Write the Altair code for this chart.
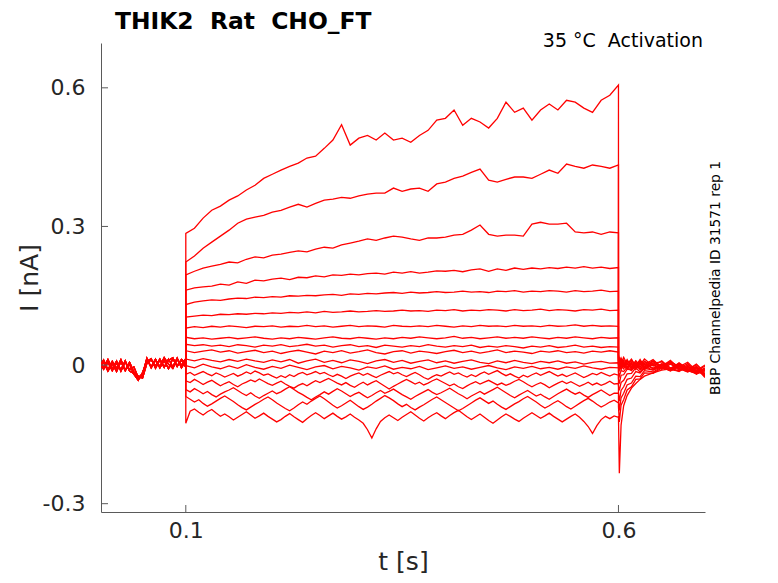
import altair as alt
import pandas as pd

RED = "#ff0000"
AXIS_GREY = "#5a5a5a"
TEXT_DARK = "#262626"
FONT = "DejaVu Sans"

PLOT_W = 604
PLOT_H = 469

TITLE = "THIK2\u00a0\u00a0Rat\u00a0\u00a0CHO_FT"
ACTIVATION_LABEL = "35 °C\u00a0\u00a0Activation"
SOURCE_LABEL = "BBP Channelpedia ID 31571 rep 1"

X_TICKS = [0.1, 0.6]
Y_TICKS = [-0.3, 0.0, 0.3, 0.6]

# sample times (s): holding before the step, the step itself, the tail after it
T_PRE = [0.000, 0.005, 0.010, 0.015, 0.020, 0.025, 0.030, 0.035, 0.040, 0.045,
         0.050, 0.055, 0.060, 0.065, 0.070, 0.075, 0.080, 0.085, 0.090, 0.095, 0.100]
T_STEP = [0.10, 0.11, 0.12, 0.13, 0.14, 0.15, 0.16, 0.17, 0.18, 0.19,
          0.20, 0.21, 0.22, 0.23, 0.24, 0.25, 0.26, 0.27, 0.28, 0.29,
          0.30, 0.31, 0.32, 0.33, 0.34, 0.35, 0.36, 0.37, 0.38, 0.39,
          0.40, 0.41, 0.42, 0.43, 0.44, 0.45, 0.46, 0.47, 0.48, 0.49,
          0.50, 0.51, 0.52, 0.53, 0.54, 0.55, 0.56, 0.57, 0.58, 0.59,
          0.60]
# the noisier small-current traces are read at a finer spacing
T_STEP_FINE = [0.100, 0.105, 0.110, 0.115, 0.120, 0.125, 0.130, 0.135, 0.140, 0.145,
               0.150, 0.155, 0.160, 0.165, 0.170, 0.175, 0.180, 0.185, 0.190, 0.195,
               0.200, 0.205, 0.210, 0.215, 0.220, 0.225, 0.230, 0.235, 0.240, 0.245,
               0.250, 0.255, 0.260, 0.265, 0.270, 0.275, 0.280, 0.285, 0.290, 0.295,
               0.300, 0.305, 0.310, 0.315, 0.320, 0.325, 0.330, 0.335, 0.340, 0.345,
               0.350, 0.355, 0.360, 0.365, 0.370, 0.375, 0.380, 0.385, 0.390, 0.395,
               0.400, 0.405, 0.410, 0.415, 0.420, 0.425, 0.430, 0.435, 0.440, 0.445,
               0.450, 0.455, 0.460, 0.465, 0.470, 0.475, 0.480, 0.485, 0.490, 0.495,
               0.500, 0.505, 0.510, 0.515, 0.520, 0.525, 0.530, 0.535, 0.540, 0.545,
               0.550, 0.555, 0.560, 0.565, 0.570, 0.575, 0.580, 0.585, 0.590, 0.595,
               0.600]
T_POST = [0.600, 0.601, 0.603, 0.606, 0.610, 0.615, 0.620, 0.625, 0.630, 0.640,
          0.650, 0.660, 0.670, 0.680, 0.690, 0.700]

# holding current before the step (nA)
BASE_A = [0.008, -0.009, 0.006, -0.012, 0.004, -0.010, 0.009, -0.013, -0.018, -0.030,
          -0.024, 0.012, -0.004, 0.013, -0.006, 0.010, -0.008, 0.014, -0.002, 0.012, 0.004]
BASE_B = [-0.011, 0.006, -0.013, 0.003, -0.014, 0.007, -0.012, 0.002, -0.020, -0.033,
          -0.016, 0.008, 0.014, -0.007, 0.011, -0.005, 0.013, -0.004, 0.015, -0.006, 0.009]
BASE_C = [0.010, -0.005, 0.012, -0.008, 0.009, -0.013, 0.006, -0.010, -0.004, -0.027,
          -0.020, 0.015, -0.006, 0.010, -0.003, 0.016, 0.002, -0.007, 0.012, 0.000, 0.014]
BASE_D = [-0.004, 0.011, -0.010, 0.008, -0.007, 0.012, -0.011, 0.006, -0.015, -0.024,
          -0.028, 0.004, 0.011, -0.002, 0.013, -0.004, 0.010, 0.016, -0.003, 0.011, -0.005]

# current during the step (nA), one list per trace, top to bottom
STEP_01 = [0.285, 0.296, 0.318, 0.335, 0.344, 0.357, 0.366, 0.379, 0.389, 0.404,
           0.413, 0.422, 0.430, 0.437, 0.448, 0.452, 0.469, 0.487, 0.520, 0.476,
           0.491, 0.497, 0.487, 0.502, 0.487, 0.491, 0.482, 0.497, 0.508, 0.530,
           0.534, 0.552, 0.519, 0.534, 0.526, 0.513, 0.534, 0.569, 0.547, 0.556,
           0.530, 0.552, 0.565, 0.552, 0.573, 0.569, 0.556, 0.547, 0.573, 0.584,
           0.606]
STEP_02 = [0.223, 0.236, 0.253, 0.266, 0.279, 0.292, 0.307, 0.316, 0.320, 0.324,
           0.331, 0.335, 0.342, 0.348, 0.342, 0.350, 0.357, 0.359, 0.363, 0.361,
           0.366, 0.370, 0.372, 0.372, 0.383, 0.376, 0.381, 0.383, 0.376, 0.392,
           0.396, 0.404, 0.409, 0.417, 0.424, 0.400, 0.396, 0.402, 0.407, 0.407,
           0.404, 0.413, 0.422, 0.415, 0.435, 0.430, 0.426, 0.433, 0.430, 0.426,
           0.433]
STEP_03 = [0.195, 0.203, 0.210, 0.214, 0.218, 0.223, 0.221, 0.229, 0.234, 0.232,
           0.238, 0.240, 0.244, 0.247, 0.245, 0.251, 0.255, 0.253, 0.260, 0.264,
           0.268, 0.273, 0.270, 0.275, 0.279, 0.277, 0.273, 0.270, 0.275, 0.275,
           0.277, 0.281, 0.283, 0.292, 0.303, 0.283, 0.279, 0.281, 0.281, 0.279,
           0.305, 0.309, 0.305, 0.305, 0.307, 0.288, 0.286, 0.288, 0.283, 0.288,
           0.286]
STEP_04 = [0.162, 0.167, 0.169, 0.171, 0.175, 0.173, 0.180, 0.177, 0.184, 0.182,
           0.186, 0.188, 0.185, 0.190, 0.189, 0.193, 0.191, 0.195, 0.194, 0.197,
           0.195, 0.198, 0.199, 0.197, 0.201, 0.199, 0.202, 0.199, 0.201, 0.204,
           0.203, 0.205, 0.202, 0.206, 0.208, 0.203, 0.208, 0.205, 0.210, 0.207,
           0.210, 0.208, 0.211, 0.209, 0.212, 0.210, 0.213, 0.210, 0.212, 0.209,
           0.211]
STEP_05 = [0.131, 0.136, 0.139, 0.141, 0.140, 0.143, 0.145, 0.144, 0.147, 0.146,
           0.148, 0.147, 0.150, 0.149, 0.151, 0.150, 0.152, 0.153, 0.151, 0.154,
           0.153, 0.155, 0.154, 0.156, 0.157, 0.155, 0.158, 0.156, 0.157, 0.159,
           0.157, 0.158, 0.160, 0.158, 0.159, 0.157, 0.160, 0.159, 0.161, 0.158,
           0.160, 0.159, 0.161, 0.160, 0.158, 0.161, 0.159, 0.160, 0.162, 0.159,
           0.160]
STEP_06 = [0.104, 0.106, 0.108, 0.107, 0.110, 0.109, 0.111, 0.110, 0.112, 0.111,
           0.113, 0.112, 0.114, 0.113, 0.115, 0.113, 0.116, 0.114, 0.115, 0.117,
           0.115, 0.116, 0.118, 0.116, 0.117, 0.119, 0.117, 0.118, 0.116, 0.119,
           0.118, 0.120, 0.117, 0.119, 0.118, 0.120, 0.119, 0.117, 0.120, 0.118,
           0.119, 0.121, 0.118, 0.120, 0.119, 0.117, 0.120, 0.119, 0.121, 0.118,
           0.119]
STEP_07 = [0.080, 0.083, 0.081, 0.084, 0.082, 0.085, 0.083, 0.081, 0.084, 0.083,
           0.085, 0.082, 0.084, 0.083, 0.086, 0.083, 0.085, 0.082, 0.084, 0.086,
           0.083, 0.085, 0.084, 0.082, 0.086, 0.084, 0.083, 0.085, 0.083, 0.086,
           0.084, 0.082, 0.085, 0.083, 0.086, 0.084, 0.085, 0.083, 0.086, 0.084,
           0.085, 0.083, 0.086, 0.084, 0.085, 0.087, 0.084, 0.086, 0.084, 0.085,
           0.084]
STEP_08 = [0.060, 0.057, 0.059, 0.056, 0.058, 0.060, 0.057, 0.059, 0.061, 0.058,
           0.056, 0.059, 0.057, 0.060, 0.058, 0.056, 0.059, 0.061, 0.058, 0.057,
           0.060, 0.058, 0.056, 0.059, 0.057, 0.060, 0.058, 0.061, 0.059, 0.057,
           0.059, 0.062, 0.058, 0.060, 0.057, 0.059, 0.061, 0.058, 0.060, 0.058,
           0.061, 0.059, 0.057, 0.060, 0.058, 0.061, 0.059, 0.057, 0.060, 0.058,
           0.059]
STEP_09 = [0.045, 0.042, 0.044, 0.041, 0.043, 0.040, 0.044, 0.042, 0.039, 0.043,
           0.041, 0.044, 0.040, 0.042, 0.045, 0.041, 0.043, 0.039, 0.042, 0.044,
           0.040, 0.042, 0.038, 0.043, 0.041, 0.039, 0.042, 0.040, 0.044, 0.041,
           0.039, 0.042, 0.040, 0.043, 0.038, 0.041, 0.039, 0.042, 0.040, 0.037,
           0.041, 0.039, 0.042, 0.038, 0.040, 0.043, 0.039, 0.041, 0.038, 0.040,
           0.039]
STEP_10 = [0.031, 0.027, 0.030, 0.033, 0.028, 0.031, 0.026, 0.029, 0.032, 0.027,
           0.030, 0.025, 0.029, 0.032, 0.028, 0.024, 0.030, 0.027, 0.031, 0.026,
           0.029, 0.033, 0.027, 0.024, 0.029, 0.031, 0.026, 0.030, 0.028, 0.025,
           0.029, 0.032, 0.027, 0.030, 0.026, 0.029, 0.033, 0.027, 0.030, 0.028,
           0.025, 0.030, 0.028, 0.031, 0.027, 0.029, 0.026, 0.030, 0.028, 0.031,
           0.028]
STEP_11 = [0.013, 0.009, 0.014, 0.010, 0.007, 0.012, 0.008, 0.013, 0.009, 0.006,
           0.011, 0.007, 0.012, 0.004, 0.009, 0.013, 0.006, 0.010, 0.005, 0.011,
           0.008, 0.003, 0.009, 0.012, 0.006, 0.010, 0.004, 0.008, 0.011, 0.005,
           0.009, 0.004, 0.008, 0.011, 0.006, 0.003, 0.009, 0.005, 0.010, 0.006,
           0.003, 0.008, 0.005, 0.009, 0.004, 0.007, 0.002, 0.006, 0.008, 0.004,
           0.005]
STEP_12 = [-0.001, -0.006, 0.002, -0.004, -0.008, -0.002, -0.007, 0.001, -0.005, -0.009,
           -0.003, -0.007, 0.000, -0.005, -0.010, -0.004, -0.001, -0.008, -0.003, -0.006,
           -0.011, -0.004, -0.007, -0.002, -0.009, -0.005, -0.008, -0.003, -0.010, -0.006,
           -0.002, -0.007, -0.004, -0.009, -0.005, -0.001, -0.006, -0.010, -0.004, -0.007,
           -0.003, -0.008, -0.005, -0.009, -0.004, -0.007, -0.002, -0.006, -0.009, -0.005,
           -0.006]
# traces 13-17 on the fine grid
STEP_13 = [-0.020, -0.016, -0.022, -0.018, -0.014, -0.019, -0.023, -0.017, -0.021, -0.026,
           -0.022, -0.018, -0.024, -0.020, -0.015, -0.019, -0.013, -0.017, -0.022, -0.019,
           -0.024, -0.028, -0.023, -0.027, -0.021, -0.025, -0.019, -0.016, -0.021, -0.018,
           -0.014, -0.019, -0.016, -0.021, -0.025, -0.020, -0.024, -0.029, -0.024, -0.020,
           -0.017, -0.022, -0.018, -0.023, -0.027, -0.022, -0.018, -0.014, -0.019, -0.016,
           -0.021, -0.025, -0.020, -0.016, -0.021, -0.027, -0.031, -0.025, -0.021, -0.024,
           -0.019, -0.015, -0.020, -0.017, -0.022, -0.026, -0.021, -0.025, -0.019, -0.015,
           -0.020, -0.016, -0.012, -0.018, -0.023, -0.019, -0.024, -0.028, -0.022, -0.026,
           -0.021, -0.017, -0.022, -0.018, -0.014, -0.019, -0.024, -0.020, -0.025, -0.021,
           -0.017, -0.022, -0.027, -0.023, -0.018, -0.021, -0.016, -0.020, -0.024, -0.019,
           -0.022]
STEP_14 = [-0.034, -0.038, -0.031, -0.036, -0.042, -0.037, -0.033, -0.039, -0.045, -0.040,
           -0.036, -0.042, -0.047, -0.041, -0.037, -0.032, -0.036, -0.030, -0.035, -0.040,
           -0.044, -0.039, -0.035, -0.041, -0.046, -0.050, -0.044, -0.040, -0.045, -0.039,
           -0.034, -0.038, -0.033, -0.029, -0.034, -0.039, -0.043, -0.038, -0.044, -0.048,
           -0.042, -0.037, -0.043, -0.038, -0.034, -0.040, -0.046, -0.052, -0.046, -0.041,
           -0.036, -0.031, -0.036, -0.041, -0.037, -0.043, -0.039, -0.034, -0.030, -0.035,
           -0.040, -0.045, -0.041, -0.047, -0.051, -0.045, -0.040, -0.036, -0.041, -0.037,
           -0.033, -0.038, -0.043, -0.039, -0.044, -0.040, -0.035, -0.031, -0.036, -0.042,
           -0.047, -0.042, -0.038, -0.043, -0.049, -0.044, -0.039, -0.035, -0.040, -0.036,
           -0.041, -0.046, -0.042, -0.037, -0.043, -0.039, -0.044, -0.040, -0.035, -0.041,
           -0.040]
STEP_15 = [-0.053, -0.058, -0.051, -0.056, -0.062, -0.057, -0.064, -0.069, -0.063, -0.058,
           -0.054, -0.049, -0.055, -0.061, -0.066, -0.060, -0.067, -0.072, -0.066, -0.061,
           -0.056, -0.062, -0.058, -0.052, -0.047, -0.053, -0.059, -0.064, -0.070, -0.075,
           -0.069, -0.064, -0.058, -0.063, -0.057, -0.051, -0.056, -0.062, -0.068, -0.063,
           -0.059, -0.065, -0.071, -0.066, -0.060, -0.055, -0.061, -0.057, -0.052, -0.058,
           -0.064, -0.069, -0.074, -0.068, -0.063, -0.058, -0.053, -0.059, -0.064, -0.060,
           -0.055, -0.050, -0.056, -0.062, -0.067, -0.073, -0.067, -0.062, -0.057, -0.063,
           -0.058, -0.053, -0.048, -0.054, -0.060, -0.066, -0.071, -0.065, -0.060, -0.055,
           -0.061, -0.067, -0.063, -0.069, -0.074, -0.068, -0.062, -0.057, -0.052, -0.058,
           -0.063, -0.059, -0.065, -0.070, -0.064, -0.059, -0.054, -0.060, -0.066, -0.061,
           -0.061]
STEP_16 = [-0.068, -0.074, -0.080, -0.075, -0.083, -0.089, -0.084, -0.078, -0.072, -0.067,
           -0.073, -0.079, -0.086, -0.092, -0.097, -0.091, -0.085, -0.080, -0.074, -0.069,
           -0.075, -0.082, -0.088, -0.094, -0.099, -0.093, -0.086, -0.080, -0.085, -0.078,
           -0.072, -0.067, -0.073, -0.080, -0.087, -0.093, -0.088, -0.082, -0.076, -0.083,
           -0.090, -0.096, -0.091, -0.085, -0.078, -0.072, -0.066, -0.071, -0.077, -0.084,
           -0.090, -0.085, -0.092, -0.097, -0.091, -0.086, -0.080, -0.074, -0.069, -0.075,
           -0.081, -0.087, -0.093, -0.099, -0.094, -0.088, -0.082, -0.076, -0.071, -0.077,
           -0.083, -0.078, -0.085, -0.091, -0.096, -0.090, -0.084, -0.079, -0.073, -0.068,
           -0.074, -0.080, -0.087, -0.093, -0.088, -0.082, -0.077, -0.083, -0.090, -0.095,
           -0.089, -0.083, -0.077, -0.072, -0.078, -0.085, -0.091, -0.086, -0.080, -0.076,
           -0.082]
STEP_17 = [-0.126, -0.100, -0.095, -0.102, -0.108, -0.101, -0.096, -0.104, -0.111, -0.106,
           -0.112, -0.119, -0.113, -0.107, -0.101, -0.108, -0.115, -0.110, -0.104, -0.111,
           -0.117, -0.123, -0.118, -0.111, -0.105, -0.112, -0.118, -0.124, -0.116, -0.109,
           -0.103, -0.109, -0.116, -0.110, -0.104, -0.111, -0.117, -0.112, -0.106, -0.113,
           -0.119, -0.126, -0.140, -0.158, -0.138, -0.122, -0.114, -0.108, -0.114, -0.120,
           -0.113, -0.107, -0.101, -0.108, -0.115, -0.121, -0.114, -0.108, -0.103, -0.110,
           -0.116, -0.109, -0.103, -0.098, -0.105, -0.112, -0.118, -0.112, -0.106, -0.113,
           -0.120, -0.126, -0.119, -0.112, -0.106, -0.111, -0.117, -0.122, -0.115, -0.109,
           -0.103, -0.109, -0.115, -0.110, -0.104, -0.111, -0.117, -0.123, -0.117, -0.111,
           -0.106, -0.113, -0.122, -0.133, -0.148, -0.131, -0.118, -0.111, -0.116, -0.110,
           -0.113]

# current after the step (nA)
TAIL_01 = [0.022, 0.015, 0.004, 0.017, 0.002, 0.013, -0.003, 0.010, 0.001, 0.012, -0.006, 0.008, -0.004, 0.006, -0.012, 0.000]
TAIL_02 = [0.016, 0.005, 0.015, -0.001, 0.012, -0.004, 0.009, 0.000, 0.013, -0.002, 0.009, -0.007, 0.004, -0.010, 0.002, -0.016]
TAIL_03 = [0.012, 0.001, 0.014, 0.004, -0.004, 0.011, -0.002, 0.012, -0.005, 0.008, -0.003, 0.010, -0.008, 0.003, -0.014, -0.002]
TAIL_04 = [0.009, 0.016, -0.002, 0.011, 0.002, -0.006, 0.009, -0.004, 0.008, -0.001, -0.008, 0.006, -0.004, -0.012, 0.001, -0.020]
TAIL_05 = [0.007, -0.003, 0.010, -0.002, 0.009, 0.000, -0.007, 0.008, -0.003, 0.010, -0.005, -0.010, 0.005, -0.008, -0.016, -0.006]
TAIL_06 = [0.004, 0.012, -0.002, 0.008, -0.006, 0.007, -0.004, 0.006, -0.008, 0.004, 0.007, -0.007, 0.002, -0.013, -0.003, -0.022]
TAIL_07 = [0.002, -0.007, 0.007, -0.003, 0.006, -0.008, 0.005, -0.005, 0.008, -0.009, 0.002, 0.005, -0.011, 0.000, -0.018, -0.008]
TAIL_08 = [0.000, 0.009, -0.006, 0.005, -0.006, 0.004, -0.010, 0.003, -0.007, 0.005, -0.005, -0.012, 0.001, -0.009, -0.004, -0.025]
TAIL_09 = [-0.003, -0.011, 0.002, -0.008, 0.003, -0.009, 0.004, -0.010, 0.001, -0.007, 0.003, -0.006, -0.014, -0.002, -0.020, -0.010]
TAIL_10 = [-0.006, 0.004, -0.010, 0.000, -0.009, 0.003, -0.007, 0.004, -0.009, 0.002, -0.008, 0.002, -0.007, -0.015, -0.006, -0.027]
TAIL_11 = [-0.015, -0.024, -0.012, -0.014, -0.004, -0.012, 0.000, -0.009, 0.003, -0.007, 0.001, -0.010, 0.000, -0.012, -0.018, -0.009]
TAIL_12 = [-0.030, -0.040, -0.022, -0.021, -0.009, -0.011, -0.002, -0.008, -0.010, 0.002, -0.009, 0.003, -0.008, -0.014, -0.004, -0.021]
TAIL_13 = [-0.045, -0.055, -0.038, -0.033, -0.019, -0.018, -0.006, -0.015, -0.003, -0.011, 0.000, -0.010, -0.003, -0.011, -0.019, -0.011]
TAIL_14 = [-0.060, -0.078, -0.055, -0.047, -0.031, -0.028, -0.014, -0.017, -0.007, -0.011, -0.004, -0.012, -0.002, -0.013, -0.008, -0.024]
TAIL_15 = [-0.075, -0.098, -0.071, -0.061, -0.043, -0.039, -0.024, -0.025, -0.012, -0.015, -0.004, -0.013, -0.003, -0.012, -0.017, -0.008]
TAIL_16 = [-0.090, -0.123, -0.087, -0.075, -0.054, -0.047, -0.031, -0.030, -0.017, -0.018, -0.006, -0.010, -0.013, -0.003, -0.014, -0.020]
TAIL_17 = [-0.110, -0.234, -0.130, -0.088, -0.066, -0.050, -0.040, -0.031, -0.024, -0.017, -0.011, -0.008, -0.012, -0.005, -0.014, -0.009]

BASES = [BASE_A, BASE_B, BASE_C, BASE_D]
STEPS = [(STEP_01, T_STEP), (STEP_02, T_STEP), (STEP_03, T_STEP), (STEP_04, T_STEP),
         (STEP_05, T_STEP), (STEP_06, T_STEP), (STEP_07, T_STEP), (STEP_08, T_STEP),
         (STEP_09, T_STEP), (STEP_10, T_STEP), (STEP_11, T_STEP), (STEP_12, T_STEP),
         (STEP_13, T_STEP_FINE), (STEP_14, T_STEP_FINE), (STEP_15, T_STEP_FINE),
         (STEP_16, T_STEP_FINE), (STEP_17, T_STEP_FINE)]
TAILS = [TAIL_01, TAIL_02, TAIL_03, TAIL_04, TAIL_05, TAIL_06, TAIL_07, TAIL_08, TAIL_09,
         TAIL_10, TAIL_11, TAIL_12, TAIL_13, TAIL_14, TAIL_15, TAIL_16, TAIL_17]


def build_traces() -> pd.DataFrame:
    rows = []
    for n, ((step, step_t), tail) in enumerate(zip(STEPS, TAILS)):
        base = BASES[n % len(BASES)]
        assert len(base) == len(T_PRE) and len(step) == len(step_t) and len(tail) == len(T_POST)
        times = T_PRE + step_t + T_POST
        values = base + step + tail
        for seq, (t, i) in enumerate(zip(times, values)):
            rows.append({"trace": n, "seq": seq, "t": t, "i": i})
    return pd.DataFrame(rows)


x_scale = alt.Scale(domain=[0.002, 0.7], nice=False, zero=False)
y_scale = alt.Scale(domain=[-0.318, 0.697], nice=False, zero=False)

x_axis = alt.Axis(
    values=X_TICKS, format=".1f", grid=False, ticks=False, tickSize=0,
    labelFont=FONT, labelFontSize=22, labelColor=TEXT_DARK, labelPadding=8,
    domainColor=AXIS_GREY, title="t [s]", titleFont=FONT, titleFontSize=25,
    titleFontWeight="normal", titleColor=TEXT_DARK, titlePadding=8,
)
y_axis = alt.Axis(
    values=Y_TICKS, grid=False, ticks=False, tickSize=0,
    labelExpr="datum.value == 0 ? '0' : (datum.value < 0 ? '-' + format(-datum.value, '.1f') : format(datum.value, '.1f'))",
    labelFont=FONT, labelFontSize=22, labelColor=TEXT_DARK, labelPadding=16,
    domainColor=AXIS_GREY, title="I [nA]", titleFont=FONT, titleFontSize=25,
    titleFontWeight="normal", titleColor=TEXT_DARK, titlePadding=0,
)

traces = alt.Chart(build_traces()).mark_line(color=RED, strokeWidth=1.3, clip=True).encode(
    x=alt.X("t:Q", scale=x_scale, axis=x_axis),
    y=alt.Y("i:Q", scale=y_scale, axis=y_axis),
    detail="trace:N",
    order="seq:Q",
)

# inward-pointing ticks, MATLAB style
y_ticks = alt.Chart(pd.DataFrame({"i": Y_TICKS})).mark_rule(color=AXIS_GREY, strokeWidth=1).encode(
    y=alt.Y("i:Q", scale=y_scale, axis=y_axis),
    x=alt.value(0),
    x2=alt.value(7),
)
x_ticks = alt.Chart(pd.DataFrame({"t": X_TICKS})).mark_rule(color=AXIS_GREY, strokeWidth=1).encode(
    x=alt.X("t:Q", scale=x_scale, axis=x_axis),
    y=alt.value(PLOT_H),
    y2=alt.value(PLOT_H - 7),
)

title = alt.Chart(pd.DataFrame({"label": [TITLE]})).mark_text(
    align="left", baseline="alphabetic", font=FONT, fontSize=23.4, fontWeight="bold", color="black",
).encode(text="label:N", x=alt.value(14), y=alt.value(-14))

activation = alt.Chart(pd.DataFrame({"label": [ACTIVATION_LABEL]})).mark_text(
    align="right", baseline="alphabetic", font=FONT, fontSize=19, color="black",
).encode(text="label:N", x=alt.value(PLOT_W - 2), y=alt.value(4))

source = alt.Chart(pd.DataFrame({"label": [SOURCE_LABEL]})).mark_text(
    align="center", baseline="middle", angle=270, font=FONT, fontSize=13.8, color="black",
).encode(text="label:N", x=alt.value(PLOT_W + 11), y=alt.value(235))

chart = alt.layer(traces, y_ticks, x_ticks, title, activation, source).properties(
    width=PLOT_W,
    height=PLOT_H,
    autosize=alt.AutoSizeParams(type="none"),
    padding={"left": 93, "top": 35, "right": 60, "bottom": 62},
).configure_view(stroke=None)

chart.save("out.html", embed_options={"renderer": "svg", "actions": False})
